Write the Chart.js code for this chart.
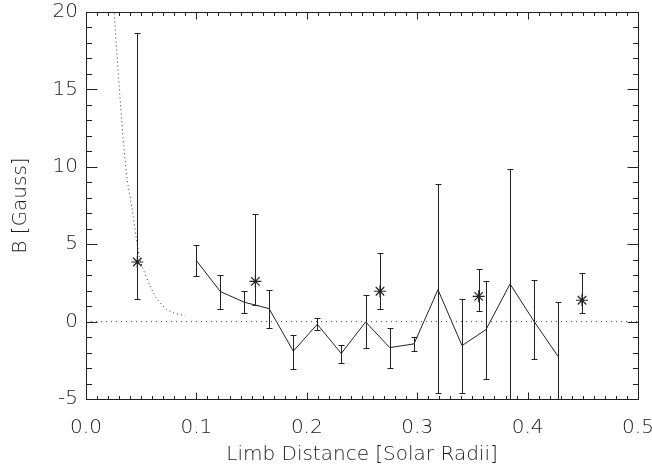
<!DOCTYPE html>
<html>
<head>
<meta charset="utf-8">
<script src="https://cdn.jsdelivr.net/npm/chart.js@4"></script>
<style>
  html,body{margin:0;padding:0;background:#fff;}
  canvas{display:block;}
</style>
</head>
<body>
<canvas id="c" width="652" height="468"></canvas>
<script>
// datos: campo magnético vs distancia al limbo
const lineX  = [0.100, 0.1217, 0.1434, 0.1658, 0.1878, 0.2095, 0.2312, 0.2533, 0.2751, 0.2971, 0.3188, 0.3406, 0.3623, 0.3841, 0.4058, 0.4275];
const lineY  = [3.94, 1.94, 1.25, 0.84, -1.91, -0.17, -2.06, -0.02, -1.68, -1.44, 2.06, -1.55, -0.52, 2.43, 0.02, -2.24];
const lineHi = [4.95, 3.00, 1.96, 2.04, -0.88, 0.21, -1.53, 1.70, -0.43, -1.01, 8.92, 1.44, 2.65, 9.89, 2.66, 1.25];
const lineLo = [2.92, 0.84, 0.56, -0.41, -3.05, -0.54, -2.67, -1.70, -2.99, -1.89, -4.60, -4.60, -3.68, -5.00, -2.41, -6.00];

const starX  = [0.0465, 0.1534, 0.2663, 0.3557, 0.4493];
const starY  = [3.85, 2.60, 1.96, 1.63, 1.38];
const starHi = [18.65, 6.92, 4.41, 3.40, 3.14];
const starLo = [1.46, 1.07, 0.82, 0.69, 0.58];

// curva punteada (modelo)
const modelX = [0.0256, 0.0278, 0.0302, 0.0326, 0.0347, 0.0369, 0.0399, 0.0428, 0.0453, 0.0483, 0.0534, 0.058, 0.064, 0.0731, 0.0822, 0.0897];
const modelY = [19.9, 17.5, 15.1, 12.8, 11.0, 9.4, 8.1, 6.8, 5.5, 4.2, 3.1, 2.3, 1.5, 0.8, 0.5, 0.4];

const zeroX = [0, 0.5];
const zeroY = [0, 0];

const xMin = 0, xMax = 0.5, xStep = 0.1, xMinor = 0.01;
const yMin = -5, yMax = 20, yStep = 5, yMinor = 1;

const ink = '#222';
const txt = '#1a1a1a';
const fnt = {family:'DejaVu Sans', size:20, weight:'200'};

const pts = (xs, ys) => xs.map((x,i)=>({x, y:ys[i]}));

// barras de error (clipeadas al área del gráfico)
const errorBars = {
  id:'errorBars',
  afterDatasetsDraw(chart){
    const {ctx, chartArea:a, scales:{x, y}} = chart;
    ctx.save();
    ctx.beginPath(); ctx.rect(a.left, a.top, a.right-a.left, a.bottom-a.top); ctx.clip();
    ctx.strokeStyle = ink; ctx.lineWidth = 1;
    chart.data.datasets.forEach(ds=>{
      if(!ds.errLo) return;
      ds.data.forEach((p,i)=>{
        const px = Math.round(x.getPixelForValue(p.x)) + 0.5;
        const yh = Math.round(y.getPixelForValue(ds.errHi[i])) + 0.5;
        const yl = Math.round(y.getPixelForValue(ds.errLo[i])) + 0.5;
        ctx.beginPath();
        ctx.moveTo(px, yh); ctx.lineTo(px, yl);
        ctx.moveTo(px-3, yh); ctx.lineTo(px+3, yh);
        ctx.moveTo(px-3, yl); ctx.lineTo(px+3, yl);
        ctx.stroke();
      });
    });
    ctx.restore();
  }
};

// marco con ticks hacia adentro en los cuatro lados (estilo IDL)
const boxTicks = {
  id:'boxTicks',
  afterDraw(chart){
    const {ctx, chartArea:a, scales:{x, y}} = chart;
    ctx.save();
    ctx.strokeStyle = ink; ctx.lineWidth = 1;
    const L = Math.round(a.left)+0.5, R = Math.round(a.right)+0.5;
    const T = Math.round(a.top)+0.5, B = Math.round(a.bottom)+0.5;
    ctx.strokeRect(L, T, R-L, B-T);
    ctx.beginPath();
    const nx = Math.round((xMax-xMin)/xMinor);
    for(let i=0;i<=nx;i++){
      const v = xMin + i*xMinor;
      const px = Math.round(x.getPixelForValue(v))+0.5;
      const len = (i % Math.round(xStep/xMinor) === 0) ? 7 : 3.5;
      ctx.moveTo(px, B); ctx.lineTo(px, B-len);
      ctx.moveTo(px, T); ctx.lineTo(px, T+len);
    }
    const ny = Math.round((yMax-yMin)/yMinor);
    for(let i=0;i<=ny;i++){
      const v = yMin + i*yMinor;
      const py = Math.round(y.getPixelForValue(v))+0.5;
      const len = (i % Math.round(yStep/yMinor) === 0) ? 11 : 5.5;
      ctx.moveTo(L, py); ctx.lineTo(L+len, py);
      ctx.moveTo(R, py); ctx.lineTo(R-len, py);
    }
    ctx.stroke();
    ctx.restore();
  }
};

new Chart(document.getElementById('c'), {
  type:'scatter',
  data:{datasets:[
    {data:pts(zeroX, zeroY), showLine:true, borderColor:'#444', borderWidth:1, borderDash:[1,4], pointRadius:0},
    {data:pts(modelX, modelY), showLine:true, borderColor:'#333', borderWidth:1, borderDash:[1,3], pointRadius:0, cubicInterpolationMode:'monotone'},
    {data:pts(lineX, lineY), showLine:true, borderColor:ink, borderWidth:1, pointRadius:0, errLo:lineLo, errHi:lineHi},
    {data:pts(starX, starY), showLine:false, pointStyle:'star', pointRadius:6, borderColor:ink, borderWidth:1.2, errLo:starLo, errHi:starHi}
  ]},
  options:{
    responsive:false, devicePixelRatio:1, animation:false,
    layout:{padding:{top:12, right:14, left:0, bottom:0}},
    plugins:{legend:{display:false}, tooltip:{enabled:false}},
    scales:{
      x:{type:'linear', min:xMin, max:xMax,
        grid:{display:false, drawTicks:false}, border:{display:false},
        ticks:{stepSize:xStep, color:txt, font:fnt, padding:17, maxRotation:0, callback:v=>v.toFixed(1)},
        title:{display:true, text:'Limb Distance [Solar Radii]', color:txt, font:fnt, padding:{top:0, bottom:1}},
        afterFit(s){ s.height = 69; s.paddingLeft = 0; s.paddingRight = 0; }
      },
      y:{type:'linear', min:yMin, max:yMax,
        grid:{display:false, drawTicks:false}, border:{display:false},
        ticks:{stepSize:yStep, color:txt, font:fnt, padding:8, callback:v=>String(v)},
        title:{display:true, text:'B [Gauss]', color:txt, font:fnt, padding:{top:9, bottom:0}},
        afterFit(s){ s.width = 86; s.paddingTop = 0; s.paddingBottom = 0; }
      }
    }
  },
  plugins:[errorBars, boxTicks]
});
</script>
</body>
</html>
